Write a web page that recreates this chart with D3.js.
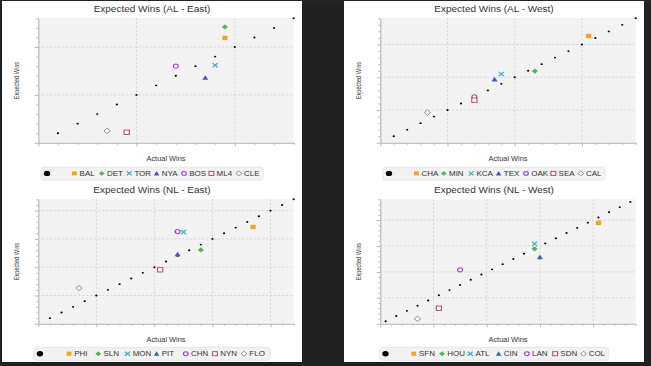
<!DOCTYPE html>
<html><head><meta charset="utf-8">
<script src="https://cdn.jsdelivr.net/npm/d3@7"></script>
<style>html,body{margin:0;padding:0;background:#212121;} svg{display:block}</style>
</head><body><svg id="c" width="651" height="366"></svg>
<script>
// ---------- DATA ----------
const alEastTitle = "Expected Wins (AL - East)";
const alEastRange = [60, 86];
const alEastDiagonal = [62, 64, 66, 68, 70, 72, 74, 76, 78, 80, 82, 84, 86];
const alEastTeams = ["BAL", "DET", "TOR", "NYA", "BOS", "ML4", "CLE"];
const alEastActual = [79, 79, 78, 77, 74, 69, 67];
const alEastExpected = [81.9, 84.2, 76.2, 73.6, 76.0, 62.2, 62.5];

const alWestTitle = "Expected Wins (AL - West)";
const alWestRange = [60, 98];
const alWestDiagonal = [62, 64, 66, 68, 70, 72, 74, 76, 78, 80, 82, 84, 86, 88, 90, 92, 94, 96, 98];
const alWestTeams = ["CHA", "MIN", "KCA", "TEX", "OAK", "SEA", "CAL"];
const alWestActual = [91, 83, 78, 77, 74, 74, 67];
const alWestExpected = [92.6, 81.9, 81.0, 79.4, 74.0, 73.0, 69.2];

const nlEastTitle = "Expected Wins (NL - East)";
const nlEastRange = [60, 104];
const nlEastDiagonal = [62, 64, 66, 68, 70, 72, 74, 76, 78, 80, 82, 84, 86, 88, 90, 92, 94, 96, 98, 100, 102, 104];
const nlEastTeams = ["PHI", "SLN", "MON", "PIT", "CHN", "NYN", "FLO"];
const nlEastActual = [97, 88, 85, 84, 84, 81, 67];
const nlEastExpected = [94.2, 86.1, 92.4, 84.6, 92.6, 79.1, 72.6];

const nlWestTitle = "Expected Wins (NL - West)";
const nlWestRange = [60, 108];
const nlWestDiagonal = [61, 63, 65, 67, 69, 71, 73, 75, 77, 79, 81, 83, 85, 87, 89, 91, 93, 95, 97, 99, 101, 103, 105, 107];
const nlWestTeams = ["SFN", "HOU", "ATL", "CIN", "LAN", "SDN", "COL"];
const nlWestActual = [101, 89, 89, 90, 75, 71, 67];
const nlWestExpected = [98.9, 88.9, 90.8, 85.7, 80.8, 66.0, 61.9];

const xAxisLabel = "Actual Wins";
const yAxisLabel = "Expected Wins";

// ---------- STYLE ----------
const teamColors = ["#f7a21d", "#57b757", "#41a9c9", "#4258c9", "#9a42c8", "#c84164", "#888888"];
const teamKinds = ["square", "diamond", "cross", "triangle", "circleH", "squareH", "diamondH"];
const SY = 0.85; // vertical squash of the reference

const panels = [
  {title: alEastTitle, range: alEastRange, diag: alEastDiagonal, teams: alEastTeams, ax: alEastActual, ex: alEastExpected, px: 2, py: 1, h: 181, ly: 166},
  {title: alWestTitle, range: alWestRange, diag: alWestDiagonal, teams: alWestTeams, ax: alWestActual, ex: alWestExpected, px: 344, py: 1, h: 181, ly: 166},
  {title: nlEastTitle, range: nlEastRange, diag: nlEastDiagonal, teams: nlEastTeams, ax: nlEastActual, ex: nlEastExpected, px: 2, py: 182, h: 180, ly: 165.3},
  {title: nlWestTitle, range: nlWestRange, diag: nlWestDiagonal, teams: nlWestTeams, ax: nlWestActual, ex: nlWestExpected, px: 344, py: 182, h: 180, ly: 165.3}
];

const svg = d3.select("#c");
svg.append("rect").attr("width", 651).attr("height", 366).attr("fill", "#212121");
svg.append("rect").attr("width", 651).attr("height", 1).attr("fill", "#1b2a23");

function drawSymbol(g, kind, color, cx, cy, s) {
  const t = `translate(${cx},${cy}) scale(1,${SY})`;
  const h = s / 2;
  if (kind === "square" || kind === "squareH") {
    g.append("rect").attr("transform", t).attr("x", -h).attr("y", -h).attr("width", s).attr("height", s)
      .attr("fill", kind === "square" ? color : "#fff").attr("stroke", kind === "square" ? "none" : color).attr("stroke-width", 1.1);
  } else if (kind === "diamond" || kind === "diamondH") {
    const d = h * 1.2;
    g.append("path").attr("transform", t).attr("d", `M0,${-d}L${d},0L0,${d}L${-d},0Z`)
      .attr("fill", kind === "diamond" ? color : "#fff").attr("stroke", kind === "diamond" ? "none" : color).attr("stroke-width", 1);
  } else if (kind === "cross") {
    g.append("path").attr("transform", t).attr("d", `M${-h},${-h}L${h},${h}M${h},${-h}L${-h},${h}`)
      .attr("fill", "none").attr("stroke", color).attr("stroke-width", 1.3);
  } else if (kind === "triangle") {
    const d = h * 1.15;
    g.append("path").attr("transform", t).attr("d", `M0,${-d}L${d},${d * 0.85}L${-d},${d * 0.85}Z`).attr("fill", color);
  } else if (kind === "circleH") {
    g.append("ellipse").attr("transform", t).attr("rx", h * 0.95).attr("ry", h * 0.95)
      .attr("fill", "#fff").attr("stroke", color).attr("stroke-width", 1.2);
  } else if (kind === "dot") {
    g.append("ellipse").attr("transform", t).attr("rx", h).attr("ry", h).attr("fill", color);
  }
}

const measurer = svg.append("text").attr("font-family", "Liberation Sans, Arial, sans-serif").attr("font-size", 8).attr("opacity", 0);
function textW(s) { measurer.text(s); return measurer.node().getComputedTextLength(); }

panels.forEach(p => {
  const g = svg.append("g").attr("transform", `translate(${p.px},${p.py})`);
  g.append("rect").attr("width", 300).attr("height", p.h).attr("fill", "#ffffff");

  const L = 36.3, R = 291.7, T = 17.3, B = 141.8;
  const x = d3.scaleLinear().domain(p.range).range([L, R]);
  const y = d3.scaleLinear().domain(p.range).range([B, T]);

  g.append("rect").attr("x", L).attr("y", T).attr("width", R - L).attr("height", B - T).attr("fill", "#f3f3f3");

  const minor = d3.range(Math.ceil(p.range[0] / 2) * 2, p.range[1] + 0.001, 2);
  const major = minor.filter(v => v % 10 === 0);
  const gridV = major.filter(v => v > p.range[0] && v < p.range[1]);

  g.append("g").selectAll("line").data(gridV).join("line")
    .attr("x1", d => x(d)).attr("x2", d => x(d)).attr("y1", T).attr("y2", B)
    .attr("stroke", "#d4d4d4").attr("stroke-dasharray", "2,2");
  g.append("g").selectAll("line").data(gridV).join("line")
    .attr("y1", d => y(d)).attr("y2", d => y(d)).attr("x1", L).attr("x2", R)
    .attr("stroke", "#d4d4d4").attr("stroke-dasharray", "2,2");

  // axes
  const styleAxis = a => {
    a.select(".domain").attr("stroke", "#c4c4c4");
    a.selectAll(".tick line").attr("stroke", "#b8b8b8");
    a.selectAll(".tick text").remove();
  };
  g.append("g").attr("transform", `translate(0,${B})`)
    .call(d3.axisBottom(x).tickValues(minor.filter(v => v % 10 !== 0)).tickSize(2).tickSizeOuter(0).tickFormat(""))
    .call(styleAxis);
  g.append("g").attr("transform", `translate(0,${B})`)
    .call(d3.axisBottom(x).tickValues(major).tickSize(3.5).tickSizeOuter(0).tickFormat(""))
    .call(styleAxis);
  g.append("g").attr("transform", `translate(${L},0)`)
    .call(d3.axisLeft(y).tickValues(minor.filter(v => v % 10 !== 0)).tickSize(2).tickSizeOuter(0).tickFormat(""))
    .call(styleAxis);
  g.append("g").attr("transform", `translate(${L},0)`)
    .call(d3.axisLeft(y).tickValues(major).tickSize(3.5).tickSizeOuter(0).tickFormat(""))
    .call(styleAxis);

  // title & axis labels
  g.append("text").attr("transform", `translate(150,10.6) scale(1,${SY})`).attr("text-anchor", "middle")
    .attr("font-family", "Liberation Sans, Arial, sans-serif").attr("font-size", 10).attr("fill", "#333").text(p.title);
  g.append("text").attr("transform", `translate(${(L + R) / 2},160) scale(1,${SY})`).attr("text-anchor", "middle")
    .attr("font-family", "Liberation Sans, Arial, sans-serif").attr("font-size", 7.4).attr("fill", "#333").text(xAxisLabel);
  g.append("text").attr("transform", `translate(16.5,${(T + B) / 2}) scale(1,0.78) rotate(-90)`).attr("text-anchor", "middle")
    .attr("font-family", "Liberation Sans, Arial, sans-serif").attr("font-size", 7.2).attr("fill", "#333").text(yAxisLabel);

  // diagonal points
  const pts = g.append("g");
  p.diag.forEach(v => drawSymbol(pts, "dot", "#000", x(v), y(v), 2.2));
  // team points
  p.teams.forEach((t, i) => drawSymbol(pts, teamKinds[i], teamColors[i], x(p.ax[i]), y(p.ex[i]), 5.2));

  // legend
  const labels = [""].concat(p.teams);
  const maxW = d3.max(p.teams, textW);
  const tile = maxW + 10.5;
  const bw = labels.length * tile + 3;
  const bx = 150 - bw / 2;
  const lg = g.append("g");
  lg.append("rect").attr("x", bx).attr("y", p.ly).attr("width", bw).attr("height", 13).attr("rx", 3)
    .attr("fill", "#f2f2f2").attr("stroke", "#e2e2e2").attr("stroke-width", 0.8);
  labels.forEach((lab, i) => {
    const tx = bx + 2.5 + i * tile;
    const cy = p.ly + 6.4;
    if (i === 0) drawSymbol(lg, "dot", "#000", tx + 3.6, cy, 6.4);
    else drawSymbol(lg, teamKinds[i - 1], teamColors[i - 1], tx + 3.6, cy, 4.8);
    lg.append("text").attr("transform", `translate(${tx + 8.8},${p.ly + 8.6}) scale(1,${SY})`)
      .attr("font-family", "Liberation Sans, Arial, sans-serif").attr("font-size", 8).attr("fill", "#333").text(lab);
  });
});
measurer.remove();
</script>
</body></html>
